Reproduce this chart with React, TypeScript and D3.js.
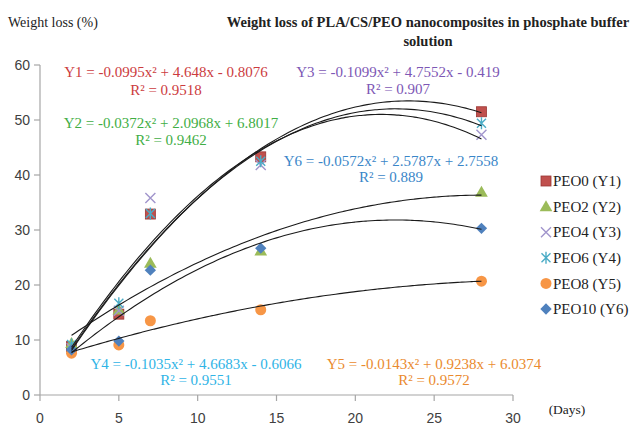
import React from "react";
import * as d3 from "d3";

const days = [2, 5, 7, 14, 28];
const seriesNames = ["PEO0 (Y1)", "PEO2 (Y2)", "PEO4 (Y3)", "PEO6 (Y4)", "PEO8 (Y5)", "PEO10 (Y6)"];
const peo0 = [8.8, 14.7, 32.9, 43.3, 51.5];
const peo2 = [9.4, 15.5, 24.0, 26.2, 36.9];
const peo4 = [8.5, 15.3, 35.8, 41.8, 47.3];
const peo6 = [9.2, 16.7, 33.0, 42.5, 49.4];
const peo8 = [7.6, 9.1, 13.5, 15.5, 20.7];
const peo10 = [8.2, 9.8, 22.7, 26.7, 30.3];
// trendline coefficients [a, b, c] for a x^2 + b x + c
const coefY1 = [-0.0995, 4.648, -0.8076];
const coefY2 = [-0.0372, 2.0968, 6.8017];
const coefY3 = [-0.1099, 4.7552, -0.419];
const coefY4 = [-0.1035, 4.6683, -0.6066];
const coefY5 = [-0.0143, 0.9238, 6.0374];
const coefY6 = [-0.0572, 2.5787, 2.7558];
const eqLabels = [
  "Y1 = -0.0995x² + 4.648x - 0.8076",
  "Y2 = -0.0372x² + 2.0968x + 6.8017",
  "Y3 = -0.1099x² + 4.7552x - 0.419",
  "Y4 = -0.1035x² + 4.6683x - 0.6066",
  "Y5 = -0.0143x² + 0.9238x + 6.0374",
  "Y6 = -0.0572x² + 2.5787x + 2.7558",
];
const r2Labels = ["R² = 0.9518", "R² = 0.9462", "R² = 0.907", "R² = 0.9551", "R² = 0.9572", "R² = 0.889"];
const xTicks = [0, 5, 10, 15, 20, 25, 30];
const yTicks = [0, 10, 20, 30, 40, 50, 60];

const values = [peo0, peo2, peo4, peo6, peo8, peo10];
const coefs = [coefY1, coefY2, coefY3, coefY4, coefY5, coefY6];
const markerColors = ["#C0504D", "#9BBB59", "#A195CC", "#4BACC6", "#F79646", "#4F81BD"];
const eqColors = ["#CC3B3E", "#3FAE45", "#7D57B5", "#2FB4E6", "#EA8A2E", "#3A86C8"];
// equation label positions [centerX, first-line center Y, second-line center Y]
const eqPos: [number, number, number][] = [
  [166, 72, 90],
  [171, 123, 140],
  [398, 72, 89],
  [196, 364, 380],
  [434, 364, 380],
  [391, 161, 177],
];

const W = 638;
const H = 425;

function Marker({ i, x, y }: { i: number; x: number; y: number }) {
  const c = markerColors[i];
  if (i === 0) {
    return <rect x={x - 5} y={y - 5} width={10} height={10} fill={c} stroke="#9A3532" strokeWidth={0.8} />;
  }
  if (i === 1) {
    const p = d3.symbol().type(d3.symbolTriangle).size(70)();
    return <path d={p || ""} transform={`translate(${x},${y + 1})`} fill={c} />;
  }
  if (i === 2) {
    return (
      <path d={`M${x - 5},${y - 5}L${x + 5},${y + 5}M${x - 5},${y + 5}L${x + 5},${y - 5}`} stroke={c} strokeWidth={1.4} fill="none" />
    );
  }
  if (i === 3) {
    return (
      <path
        d={`M${x - 4.5},${y - 4.5}L${x + 4.5},${y + 4.5}M${x - 4.5},${y + 4.5}L${x + 4.5},${y - 4.5}M${x},${y - 6}L${x},${y + 6}`}
        stroke={c}
        strokeWidth={1.4}
        fill="none"
      />
    );
  }
  if (i === 4) {
    return <circle cx={x} cy={y} r={5.5} fill={c} />;
  }
  return <rect x={x - 4} y={y - 4} width={8} height={8} fill={c} transform={`rotate(45 ${x} ${y})`} />;
}

export default function App() {
  const x = d3.scaleLinear().domain([0, 30]).range([40, 513]);
  const y = d3.scaleLinear().domain([0, 60]).range([395, 65]);
  const line = d3
    .line<[number, number]>()
    .x((d) => x(d[0]))
    .y((d) => y(d[1]))
    .curve(d3.curveMonotoneX);
  const xs = d3.range(2, 28.001, 0.25);
  const serif = "'Liberation Serif', 'Times New Roman', serif";
  const sans = "'Liberation Sans', Arial, sans-serif";

  return (
    <div style={{ position: "absolute", left: 0, top: 0 }}>
      <svg width={W} height={H} style={{ display: "block", background: "#fff" }}>
        {/* titles */}
        <text x={8} y={27} fontFamily={serif} fontSize={14} fill="#222">
          Weight loss (%)
        </text>
        <text x={428} y={27} textAnchor="middle" fontFamily={serif} fontSize={14.5} fontWeight="bold" fill="#222">
          Weight loss of PLA/CS/PEO nanocomposites in phosphate buffer
        </text>
        <text x={428} y={46} textAnchor="middle" fontFamily={serif} fontSize={14.5} fontWeight="bold" fill="#222">
          solution
        </text>

        {/* axes */}
        <line x1={x(0)} x2={x(0)} y1={y(60)} y2={y(0)} stroke="#A6A6A6" strokeWidth={1.2} />
        <line x1={x(0)} x2={x(30)} y1={y(0)} y2={y(0)} stroke="#A6A6A6" strokeWidth={1.2} />
        {yTicks.map((t) => (
          <g key={"y" + t}>
            <line x1={x(0) - 6} x2={x(0)} y1={y(t)} y2={y(t)} stroke="#A6A6A6" strokeWidth={1.2} />
            <text x={x(0) - 10} y={y(t)} dy="0.35em" textAnchor="end" fontFamily={sans} fontSize={14} fill="#404040">
              {t}
            </text>
          </g>
        ))}
        {xTicks.map((t) => (
          <g key={"x" + t}>
            <line x1={x(t)} x2={x(t)} y1={y(0)} y2={y(0) + 6} stroke="#A6A6A6" strokeWidth={1.2} />
            <text x={x(t)} y={423} textAnchor="middle" fontFamily={sans} fontSize={14} fill="#404040">
              {t}
            </text>
          </g>
        ))}
        <text x={567} y={414} textAnchor="middle" fontFamily={serif} fontSize={13.5} fill="#222">
          (Days)
        </text>

        {/* markers */}
        {values.map((vals, i) => (
          <g key={"m" + i}>
            {vals.map((v, j) => (
              <Marker key={j} i={i} x={x(days[j])} y={y(v)} />
            ))}
          </g>
        ))}

        {/* trendlines */}
        {coefs.map((c, i) => (
          <path
            key={"t" + i}
            d={line(xs.map((xv) => [xv, c[0] * xv * xv + c[1] * xv + c[2]] as [number, number])) || ""}
            fill="none"
            stroke="#1a1a1a"
            strokeWidth={1.1}
          />
        ))}

        {/* equations */}
        {eqLabels.map((lab, i) => (
          <g key={"e" + i} fontFamily={serif} fontSize={15} fill={eqColors[i]} textAnchor="middle">
            <text x={eqPos[i][0]} y={eqPos[i][1]} dy="0.35em">
              {lab}
            </text>
            <text x={eqPos[i][0]} y={eqPos[i][2]} dy="0.35em">
              {r2Labels[i]}
            </text>
          </g>
        ))}

        {/* legend */}
        {seriesNames.map((n, i) => {
          const ly = 181 + i * 25.6;
          return (
            <g key={"l" + i}>
              <Marker i={i} x={546} y={ly} />
              <text x={553} y={ly} dy="0.35em" fontFamily={serif} fontSize={15} fill="#222">
                {n}
              </text>
            </g>
          );
        })}
      </svg>
    </div>
  );
}
